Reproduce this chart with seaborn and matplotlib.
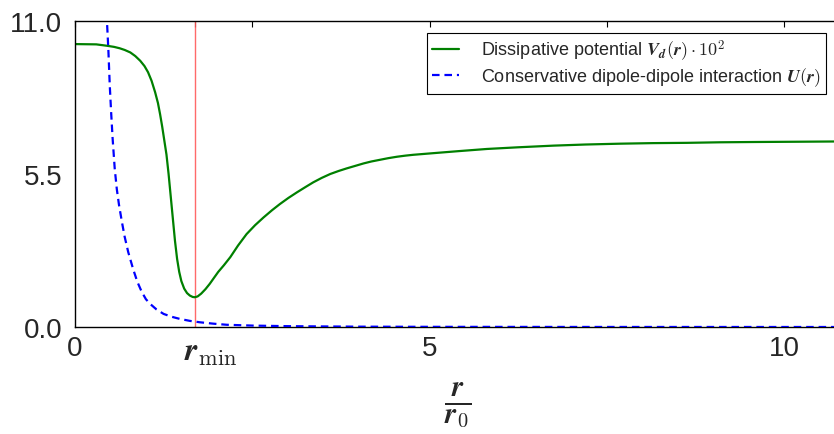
import matplotlib
matplotlib.use("Agg")
import matplotlib.pyplot as plt
import seaborn as sns
import pandas as pd

# ---- data ----
r_green = [0.0, 0.30, 0.45, 0.55, 0.63, 0.70, 0.78, 0.85, 0.92, 0.98, 1.03, 1.08,
           1.13, 1.17, 1.20, 1.23, 1.26, 1.29, 1.32, 1.35, 1.38, 1.41, 1.44, 1.47,
           1.50, 1.54, 1.58, 1.62, 1.66, 1.69, 1.73, 1.78, 1.84, 1.90, 1.95, 2.02,
           2.10, 2.19, 2.30, 2.42, 2.54, 2.66, 2.78, 2.89, 3.01, 3.13, 3.25, 3.36,
           3.48, 3.60, 3.72, 3.83, 3.95, 4.07, 4.18, 4.30, 4.42, 4.54, 4.66, 4.77,
           5.01, 5.40, 5.81, 6.25, 6.75, 7.20, 7.69, 8.15, 8.63, 9.10, 9.57, 10.20,
           10.79]
v_green = [10.17, 10.16, 10.11, 10.07, 10.02, 9.96, 9.87, 9.74, 9.57, 9.38, 9.16, 8.85,
           8.44, 8.05, 7.65, 7.20, 6.70, 6.20, 5.50, 4.70, 3.90, 3.10, 2.45, 1.98,
           1.65, 1.38, 1.22, 1.13, 1.08, 1.07, 1.10, 1.20, 1.36, 1.55, 1.73, 1.98,
           2.22, 2.51, 2.93, 3.34, 3.66, 3.94, 4.20, 4.42, 4.64, 4.84, 5.03, 5.20,
           5.36, 5.50, 5.61, 5.70, 5.79, 5.88, 5.95, 6.01, 6.07, 6.12, 6.16, 6.19,
           6.24, 6.32, 6.40, 6.46, 6.52, 6.56, 6.59, 6.61, 6.62, 6.64, 6.65, 6.66,
           6.67]

r_blue = [0.445, 0.455, 0.47, 0.49, 0.51, 0.53, 0.56, 0.59, 0.62, 0.66, 0.70, 0.75,
          0.82, 0.88, 0.94, 1.00, 1.06, 1.15, 1.25, 1.36, 1.48, 1.62, 1.76, 1.95,
          2.14, 2.51, 3.0, 3.5, 4.0, 5.0, 7.0, 10.79]
u_blue = [11.3, 10.77, 10.0, 8.7, 7.7, 6.8, 5.7, 4.95, 4.4, 3.8, 3.25, 2.7,
          2.08, 1.62, 1.27, 1.0, 0.83, 0.63, 0.47, 0.37, 0.29, 0.22, 0.17, 0.12,
          0.08, 0.05, 0.03, 0.02, 0.012, 0.006, 0.002, 0.0]

r_min = 1.69
xticks = [0, r_min, 2.5, 5, 7.5, 10]
xticklabels = ["0", "", "", "5", "", "10"]
rmin_label = r"$\boldsymbol{r}_{\min}$"
yticks = [0.0, 5.5, 11.0]
yticklabels = ["0.0", "5.5", "11.0"]

label_green = r"Dissipative potential $\boldsymbol{V}_{\boldsymbol{d}}\boldsymbol{(r)\cdot 10^2}$"
label_blue = r"Conservative dipole-dipole interaction $\boldsymbol{U(r)}$"

df_g = pd.DataFrame({"r": r_green, "v": v_green})
df_b = pd.DataFrame({"r": r_blue, "v": u_blue})

sns.set_style("white")
plt.rcParams["font.family"] = ["Liberation Sans", "DejaVu Sans"]
plt.rcParams["mathtext.fontset"] = "cm"

fig = plt.figure(figsize=(8.34, 4.35), dpi=100)
ax = fig.add_axes([75 / 834, 107 / 435, 765 / 834, 306 / 435])

ax.axvline(r_min, color="#ff5a5a", lw=1.0, alpha=0.9, zorder=1)
sns.lineplot(data=df_g, x="r", y="v", ax=ax, color="green", lw=1.6,
             label=label_green, sort=False, zorder=2)
sns.lineplot(data=df_b, x="r", y="v", ax=ax, color="blue", lw=1.6,
             linestyle=(0, (3.4, 2.2)), label=label_blue, sort=False, zorder=3)

ax.set_xlim(0, 765 / 70.9)
ax.set_ylim(0, 11)
ax.set_xticks(xticks)
ax.set_xticklabels(xticklabels)
ax.set_yticks(yticks)
ax.set_yticklabels(yticklabels)
ax.tick_params(axis="both", direction="in", length=4, width=0.8, color="black",
               labelsize=20, top=True, right=True)
ax.tick_params(axis="x", pad=6)
ax.tick_params(axis="y", pad=9)
for s in ax.spines.values():
    s.set_color("black")
    s.set_linewidth(1.0)

# r_min label (sits slightly right of its tick, as in the reference)
ax.annotate(rmin_label, xy=(r_min, 0), xycoords=("data", "axes fraction"),
            xytext=(-8, -7.5), textcoords="offset points", ha="left", va="top",
            fontsize=23)

ax.set_xlabel(r"$\frac{\boldsymbol{r}}{\boldsymbol{r}_0}$", fontsize=30)
ax.set_ylabel("")
ax.xaxis.set_label_coords(0.5, -0.17)

leg = ax.legend(loc="upper right", bbox_to_anchor=(0.9817, 0.962), borderaxespad=0,
                fontsize=13, frameon=True, fancybox=False, framealpha=1,
                edgecolor="black", handlelength=1.5, handletextpad=1.2,
                labelspacing=0.12, borderpad=0.3)
leg.get_frame().set_linewidth(0.8)

fig.savefig("out.png", dpi=100)
